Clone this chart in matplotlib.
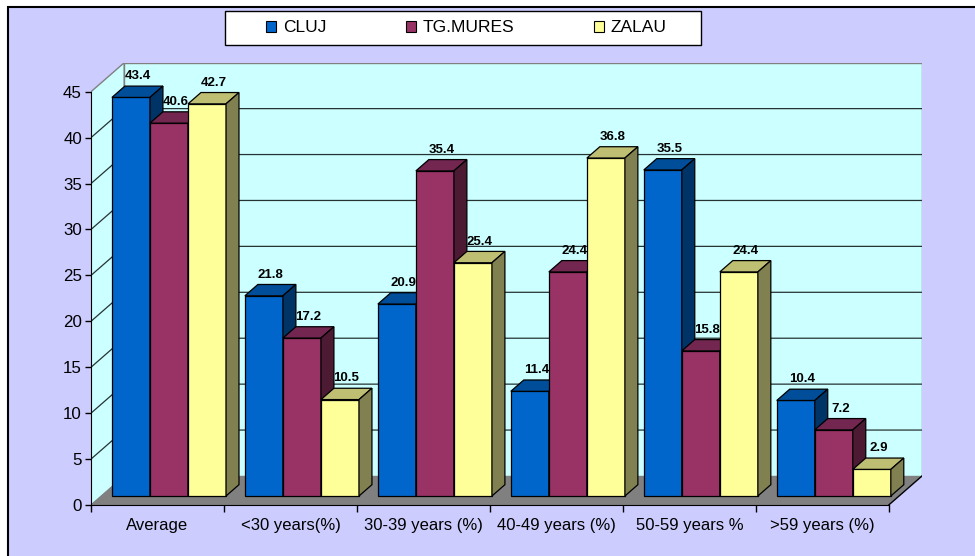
import matplotlib.pyplot as plt
from matplotlib.patches import Polygon, Rectangle

# --- data ---
categories = ['Average', '<30 years(%)', '30-39 years (%)', '40-49 years (%)',
              '50-59 years %', '>59 years (%)']
series_names = ['CLUJ', 'TG.MURES', 'ZALAU']
cluj = [43.4, 21.8, 20.9, 11.4, 35.5, 10.4]
tg_mures = [40.6, 17.2, 35.4, 24.4, 15.8, 7.2]
zalau = [42.7, 10.5, 25.4, 36.8, 24.4, 2.9]
yticks = [0, 5, 10, 15, 20, 25, 30, 35, 40, 45]

front_colors = ['#0066CC', '#993366', '#FFFF99']
top_colors = ['#004D99', '#732650', '#BFBF73']
side_colors = ['#003366', '#4D1A33', '#808050']

# fake 3D geometry (data units)
DX, DY = 0.25, 3.16      # depth offset of walls
BAR_D0 = 0.31            # bars start this far into the depth
BAR_DEPTH = 0.39
BAR_W = 0.286
GAP = 0.08
YMAX = yticks[-1]
n_cat = len(categories)

plt.rcParams['font.family'] = ['Liberation Sans', 'DejaVu Sans']

fig = plt.figure(figsize=(9.75, 5.56), dpi=100)
fig.patch.set_facecolor('white')

# lavender chart area with dark border on top/left
fig.add_artist(Rectangle((8 / 975, -0.05), 1.05, 1 - 7 / 556 + 0.05,
                         transform=fig.transFigure, facecolor='#CCCCFF',
                         edgecolor='black', lw=1.5, zorder=0))

ax = fig.add_axes([91 / 975, 51 / 556, 831 / 975, 442.3 / 556])
ax.set_facecolor('none')
ax.set_xlim(0, n_cat + DX)
ax.set_ylim(0, YMAX + DY)

# walls and floor
ax.add_patch(Polygon([(0, 0), (DX, DY), (DX, YMAX + DY), (0, YMAX)],
                     facecolor='#CCFFFF', edgecolor='#808080', lw=1, zorder=1))
ax.add_patch(Polygon([(DX, DY), (n_cat + DX, DY), (n_cat + DX, YMAX + DY), (DX, YMAX + DY)],
                     facecolor='#CCFFFF', edgecolor='#808080', lw=1, zorder=1))
ax.add_patch(Polygon([(0, 0), (n_cat, 0), (n_cat + DX, DY), (DX, DY)],
                     facecolor='#808080', edgecolor='none', zorder=1.5))
ax.plot([n_cat, n_cat + DX], [0, DY], color='black', lw=1, zorder=1.6)

# gridlines on side and back wall
for v in yticks[1:-1]:
    ax.plot([0, DX, n_cat + DX], [v, v + DY, v + DY], color='#263333', lw=0.9, zorder=1.2)

# bars
ddx, ddy = BAR_DEPTH * DX, BAR_DEPTH * DY
all_series = [cluj, tg_mures, zalau]
k = 0
for i in range(n_cat):
    for j, vals in enumerate(all_series):
        h = vals[i]
        x0 = i + GAP + j * BAR_W + BAR_D0 * DX
        y0 = BAR_D0 * DY
        z = 3 + k * 0.1
        ax.add_patch(Rectangle((x0, y0), BAR_W, h, facecolor=front_colors[j],
                               edgecolor='black', lw=0.9, zorder=z))
        ax.add_patch(Polygon([(x0, y0 + h), (x0 + BAR_W, y0 + h),
                              (x0 + BAR_W + ddx, y0 + h + ddy), (x0 + ddx, y0 + h + ddy)],
                             facecolor=top_colors[j], edgecolor='black', lw=0.9, zorder=z))
        ax.add_patch(Polygon([(x0 + BAR_W, y0), (x0 + BAR_W + ddx, y0 + ddy),
                              (x0 + BAR_W + ddx, y0 + h + ddy), (x0 + BAR_W, y0 + h)],
                             facecolor=side_colors[j], edgecolor='black', lw=0.9, zorder=z))
        ax.text(x0 + BAR_W / 2 + ddx / 2, y0 + h + ddy + 0.75, f'{h:.1f}',
                ha='center', va='baseline', fontsize=9.5, fontweight='bold', zorder=z + 0.05)
        k += 1

# axes
for s in ['top', 'right']:
    ax.spines[s].set_visible(False)
ax.spines['left'].set_bounds(0, YMAX)
ax.spines['bottom'].set_bounds(0, n_cat)
ax.spines['left'].set_zorder(2)
ax.spines['bottom'].set_zorder(2)

ax.set_yticks(yticks)
ax.tick_params(axis='y', direction='out', length=4.3, width=1, pad=2.2, labelsize=12.2)
ax.set_xticks(range(n_cat + 1))
ax.set_xticklabels([])
ax.set_xticks([i + 0.5 for i in range(n_cat)], minor=True)
ax.set_xticklabels(categories, minor=True)
ax.tick_params(axis='x', which='major', direction='out', length=5, width=1)
ax.tick_params(axis='x', which='minor', length=0, pad=9.5, labelsize=12)

# legend
fig.add_artist(Rectangle((225 / 975, 1 - 45 / 556), 476 / 975, 34 / 556,
                         transform=fig.transFigure, facecolor='white',
                         edgecolor='black', lw=1, zorder=5))
handles = [Rectangle((0, 0), 1, 1, facecolor=c, edgecolor='black', lw=0.8)
           for c in front_colors]
leg = fig.legend(handles, series_names, ncol=3, loc='center',
                 bbox_to_anchor=(466.5 / 975, 1 - 28 / 556), frameon=False,
                 fontsize=12.5, handlelength=0.55, handleheight=0.65,
                 handletextpad=0.4, columnspacing=4.6)
leg.set_zorder(6)

fig.savefig('out.png', dpi=100)
